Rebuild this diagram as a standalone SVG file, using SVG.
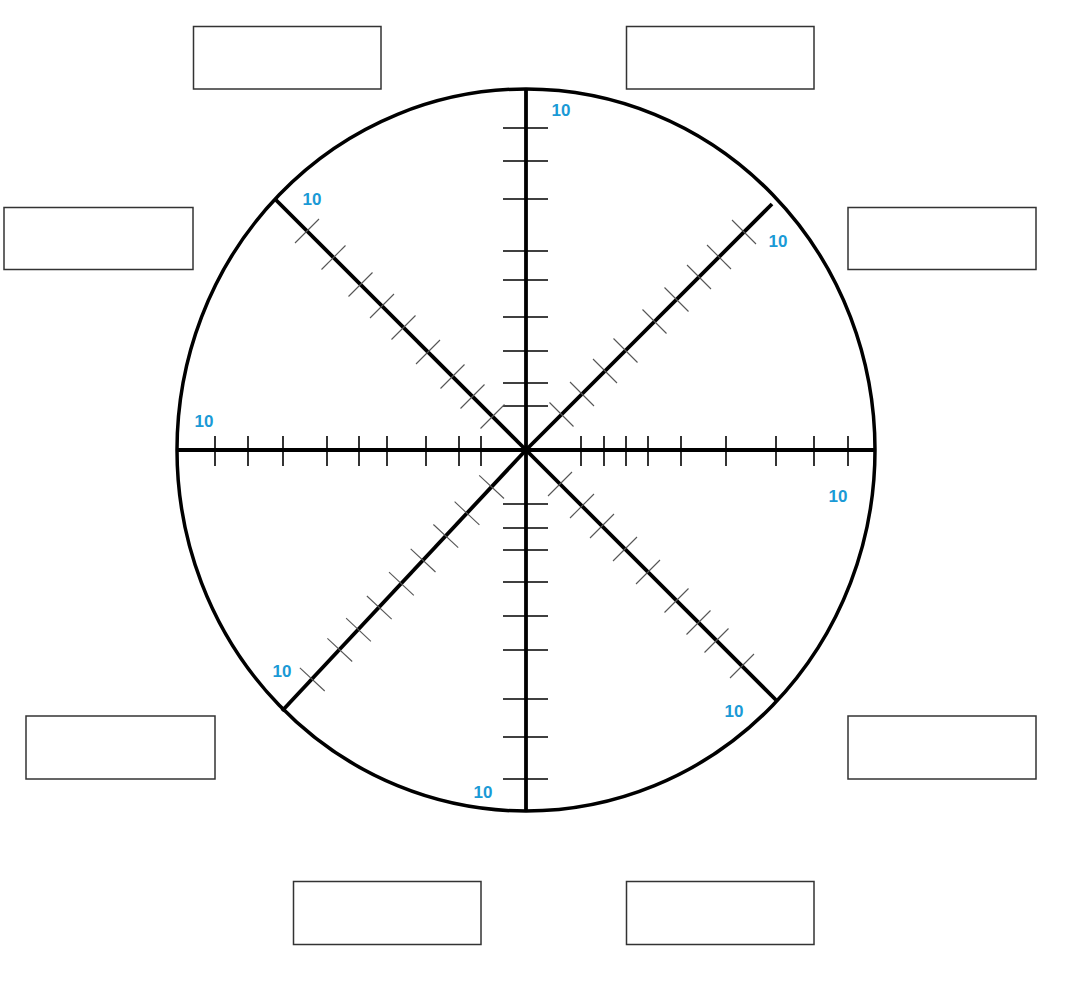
<svg xmlns="http://www.w3.org/2000/svg" width="1069" height="1000" viewBox="0 0 1069 1000">
<style>
.box{fill:#fff;stroke:#333;stroke-width:1.5}
.rim{fill:none;stroke:#000;stroke-width:3.5}
.axis{stroke:#000;stroke-width:3.8;stroke-linecap:butt}
.tk{stroke:#000;stroke-width:1.6}
.dt{stroke:#555;stroke-width:1.1}
.lbl{font-family:"Liberation Sans",Arial,sans-serif;font-size:17px;font-weight:bold;fill:#1a9ad6;text-anchor:middle}
</style>
<rect width="1069" height="1000" fill="#fff"/>
<g id="boxes">
<g id="box-top-left"><rect class="box" x="193.5" y="26.5" width="187.5" height="62.5"/></g>
<g id="box-top-right"><rect class="box" x="626.5" y="26.5" width="187.5" height="62.5"/></g>
<g id="box-left-upper"><rect class="box" x="4" y="207.5" width="189" height="62"/></g>
<g id="box-right-upper"><rect class="box" x="848" y="207.5" width="188" height="62"/></g>
<g id="box-left-lower"><rect class="box" x="26" y="716" width="189" height="63"/></g>
<g id="box-right-lower"><rect class="box" x="848" y="716" width="188" height="63"/></g>
<g id="box-bottom-left"><rect class="box" x="293.5" y="881.5" width="187.5" height="63"/></g>
<g id="box-bottom-right"><rect class="box" x="626.5" y="881.5" width="187.5" height="63"/></g>
</g>
<g id="chart">
<ellipse class="rim" cx="526" cy="450" rx="349" ry="361"/>
<g id="axes">
<line class="axis" x1="177" y1="450" x2="875" y2="450"/>
<line class="axis" x1="526" y1="89" x2="526" y2="811"/>
<line class="axis" x1="526" y1="450" x2="276" y2="200"/>
<line class="axis" x1="526" y1="450" x2="772" y2="204"/>
<line class="axis" x1="526" y1="450" x2="776" y2="700"/>
<line class="axis" x1="526" y1="450" x2="282" y2="711"/>
</g>
<g id="h-ticks">
<line class="tk" x1="215" y1="436" x2="215" y2="466"/>
<line class="tk" x1="248" y1="436" x2="248" y2="466"/>
<line class="tk" x1="283" y1="436" x2="283" y2="466"/>
<line class="tk" x1="327" y1="436" x2="327" y2="466"/>
<line class="tk" x1="359" y1="436" x2="359" y2="466"/>
<line class="tk" x1="387" y1="436" x2="387" y2="466"/>
<line class="tk" x1="426" y1="436" x2="426" y2="466"/>
<line class="tk" x1="459" y1="436" x2="459" y2="466"/>
<line class="tk" x1="481" y1="436" x2="481" y2="466"/>
<line class="tk" x1="581" y1="436" x2="581" y2="466"/>
<line class="tk" x1="604" y1="436" x2="604" y2="466"/>
<line class="tk" x1="626" y1="436" x2="626" y2="466"/>
<line class="tk" x1="648" y1="436" x2="648" y2="466"/>
<line class="tk" x1="681" y1="436" x2="681" y2="466"/>
<line class="tk" x1="726" y1="436" x2="726" y2="466"/>
<line class="tk" x1="776" y1="436" x2="776" y2="466"/>
<line class="tk" x1="814" y1="436" x2="814" y2="466"/>
<line class="tk" x1="848" y1="436" x2="848" y2="466"/>
</g>
<g id="v-ticks">
<line class="tk" x1="503" y1="128" x2="548" y2="128"/>
<line class="tk" x1="503" y1="161" x2="548" y2="161"/>
<line class="tk" x1="503" y1="199" x2="548" y2="199"/>
<line class="tk" x1="503" y1="251" x2="548" y2="251"/>
<line class="tk" x1="503" y1="280" x2="548" y2="280"/>
<line class="tk" x1="503" y1="317" x2="548" y2="317"/>
<line class="tk" x1="503" y1="351" x2="548" y2="351"/>
<line class="tk" x1="503" y1="383" x2="548" y2="383"/>
<line class="tk" x1="503" y1="406" x2="548" y2="406"/>
<line class="tk" x1="503" y1="504" x2="548" y2="504"/>
<line class="tk" x1="503" y1="528" x2="548" y2="528"/>
<line class="tk" x1="503" y1="550" x2="548" y2="550"/>
<line class="tk" x1="503" y1="582" x2="548" y2="582"/>
<line class="tk" x1="503" y1="616" x2="548" y2="616"/>
<line class="tk" x1="503" y1="650" x2="548" y2="650"/>
<line class="tk" x1="503" y1="699" x2="548" y2="699"/>
<line class="tk" x1="503" y1="737" x2="548" y2="737"/>
<line class="tk" x1="503" y1="779" x2="548" y2="779"/>
</g>
<g id="tl-ticks">
<line class="dt" x1="295" y1="243" x2="319" y2="219"/>
<line class="dt" x1="321.5" y1="269.5" x2="345.5" y2="245.5"/>
<line class="dt" x1="348.5" y1="296.5" x2="372.5" y2="272.5"/>
<line class="dt" x1="370" y1="318" x2="394" y2="294"/>
<line class="dt" x1="391.5" y1="339.5" x2="415.5" y2="315.5"/>
<line class="dt" x1="416" y1="364" x2="440" y2="340"/>
<line class="dt" x1="440.5" y1="388.5" x2="464.5" y2="364.5"/>
<line class="dt" x1="460.5" y1="408.5" x2="484.5" y2="384.5"/>
<line class="dt" x1="480.5" y1="428.5" x2="504.5" y2="404.5"/>
</g>
<g id="tr-ticks">
<line class="dt" x1="549.5" y1="402.5" x2="573.5" y2="426.5"/>
<line class="dt" x1="570" y1="382" x2="594" y2="406"/>
<line class="dt" x1="593" y1="359" x2="617" y2="383"/>
<line class="dt" x1="613.5" y1="338.5" x2="637.5" y2="362.5"/>
<line class="dt" x1="642.5" y1="309.5" x2="666.5" y2="333.5"/>
<line class="dt" x1="664.5" y1="287.5" x2="688.5" y2="311.5"/>
<line class="dt" x1="687" y1="265" x2="711" y2="289"/>
<line class="dt" x1="707" y1="245" x2="731" y2="269"/>
<line class="dt" x1="732" y1="220" x2="756" y2="244"/>
</g>
<g id="br-ticks">
<line class="dt" x1="548" y1="496" x2="572" y2="472"/>
<line class="dt" x1="570" y1="518" x2="594" y2="494"/>
<line class="dt" x1="590" y1="538" x2="614" y2="514"/>
<line class="dt" x1="613" y1="561" x2="637" y2="537"/>
<line class="dt" x1="636" y1="584" x2="660" y2="560"/>
<line class="dt" x1="664.5" y1="612.5" x2="688.5" y2="588.5"/>
<line class="dt" x1="686.5" y1="634.5" x2="710.5" y2="610.5"/>
<line class="dt" x1="704.5" y1="652.5" x2="728.5" y2="628.5"/>
<line class="dt" x1="730" y1="678" x2="754" y2="654"/>
</g>
<g id="bl-ticks">
<line class="dt" x1="479.2" y1="475.3" x2="504" y2="498.5"/>
<line class="dt" x1="454.6" y1="501.7" x2="479.4" y2="524.9"/>
<line class="dt" x1="433.4" y1="524.5" x2="458.2" y2="547.7"/>
<line class="dt" x1="410.7" y1="548.8" x2="435.5" y2="572"/>
<line class="dt" x1="389" y1="572.2" x2="413.8" y2="595.4"/>
<line class="dt" x1="366.9" y1="596" x2="391.7" y2="619.2"/>
<line class="dt" x1="346.1" y1="618.2" x2="370.9" y2="641.4"/>
<line class="dt" x1="327.4" y1="638.3" x2="352.2" y2="661.5"/>
<line class="dt" x1="299.9" y1="667.8" x2="324.7" y2="691"/>
</g>
<g id="labels">
<text class="lbl" x="561" y="116">10</text>
<text class="lbl" x="312" y="204.5">10</text>
<text class="lbl" x="778" y="246.5">10</text>
<text class="lbl" x="204" y="427">10</text>
<text class="lbl" x="838" y="501.5">10</text>
<text class="lbl" x="282" y="676.5">10</text>
<text class="lbl" x="734" y="716.5">10</text>
<text class="lbl" x="483" y="798">10</text>
</g>
</g>
</svg>
